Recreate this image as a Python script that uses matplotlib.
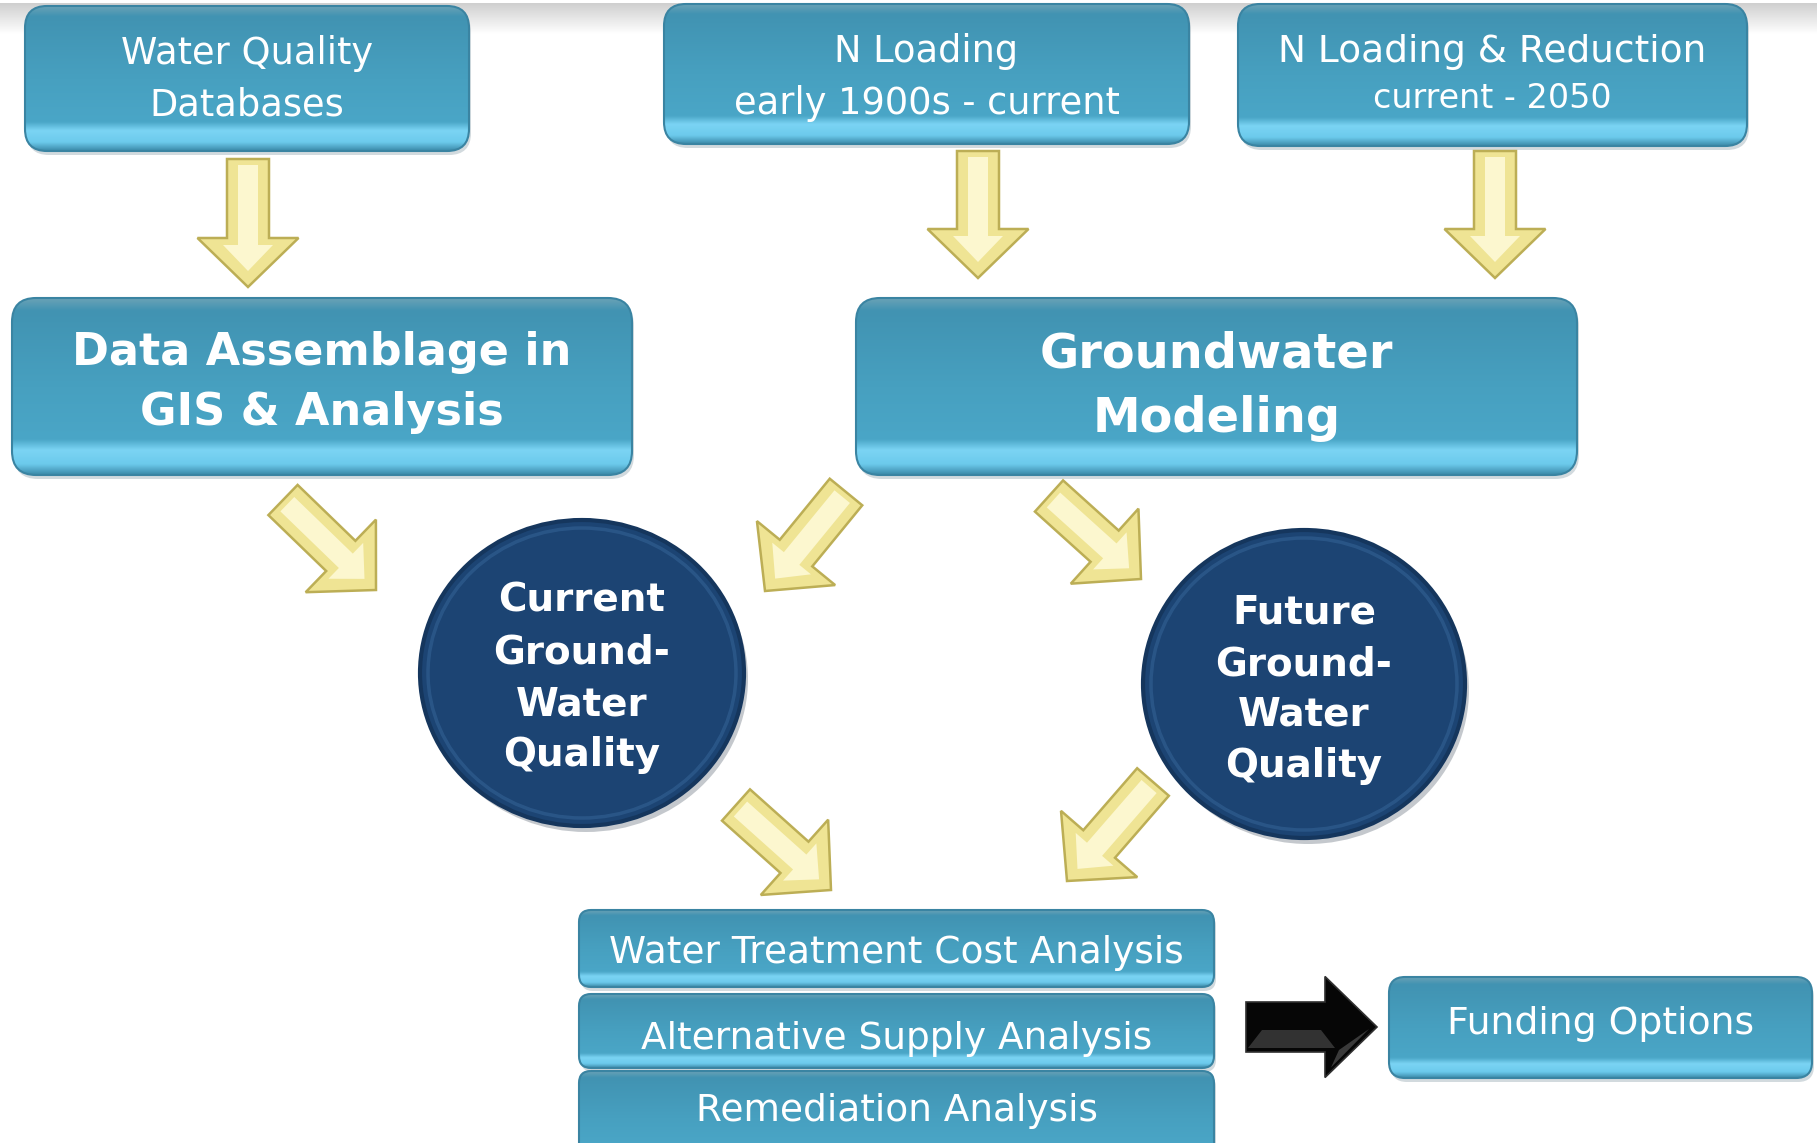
import numpy as np
import matplotlib
matplotlib.use('Agg')
import matplotlib.pyplot as plt
from matplotlib.patches import FancyBboxPatch, Ellipse, Polygon
from matplotlib.colors import LinearSegmentedColormap

W, H = 1817, 1143

# node texts
box_labels = [["Water Quality", "Databases"],
              ["N Loading", "early 1900s - current"],
              ["N Loading & Reduction", "current - 2050"],
              ["Data Assemblage in", "GIS & Analysis"],
              ["Groundwater", "Modeling"],
              ["Water Treatment Cost Analysis"],
              ["Alternative Supply Analysis"],
              ["Remediation Analysis"],
              ["Funding Options"]]
circle_labels = [["Current", "Ground-", "Water", "Quality"],
                 ["Future", "Ground-", "Water", "Quality"]]

# layout (pixels, y down)
box_rects = [(25, 6, 469, 151), (664, 4, 1189, 144), (1238, 4, 1747, 146),
             (12, 298, 632, 475), (856, 298, 1577, 475),
             (579, 910, 1214, 987), (579, 994, 1214, 1068), (579, 1071, 1214, 1165),
             (1389, 977, 1812, 1078)]
box_text_y = [[54, 105], [52, 103], [52, 99], [352, 412], [354, 418],
              [953], [1039], [1111], [1024]]
box_text_size = [[26.5, 26.5], [26.5, 26.5], [27, 24], [32, 32], [34.5, 34.5],
                 [27, 27], [27], [27], [27.2]]
box_bold = [False, False, False, True, True, False, False, False, False]
box_radius = [22, 22, 22, 24, 24, 12, 12, 12, 16]

circles = [(582, 673, 162, 153), (1304, 684, 161, 154)]
circle_text_y = [[601, 652, 704, 755], [613, 664, 715, 766]]

yellow_arrows = [((248, 159), (248, 287)), ((978, 151), (978, 278)),
                 ((1495, 151), (1495, 278)),
                 ((283, 500), (376, 590)), ((846, 492), (765, 591)),
                 ((1049, 496), (1141, 579)), ((736, 805), (831, 890)),
                 ((1153, 782), (1067, 881))]
black_arrow = ((1246, 1027), (1377, 1027))

box_cmap = LinearSegmentedColormap.from_list('box', [
    (0.0, '#6aa2b6'), (0.07, '#4193b2'), (0.5, '#47a0c0'), (0.8, '#4aa6c7'),
    (0.86, '#7bd4f4'), (0.94, '#6ccaec'), (1.0, '#3b89a8')])

fig = plt.figure(figsize=(W / 100, H / 100), dpi=100)
ax = fig.add_axes([0, 0, 1, 1])
ax.axis('off')

# grey band at the top
band = np.linspace(0, 1, 64).reshape(-1, 1)
ax.imshow(band, extent=(0, W, 34, 3), aspect='auto', origin='upper',
          cmap=LinearSegmentedColormap.from_list('g', ['#cfcfcf', '#ffffff']), zorder=0)

grad = np.linspace(0, 1, 256).reshape(-1, 1)


def rbox(x0, y0, x1, y1, r):
    style = f"round,pad=0,rounding_size={r}"
    sh = FancyBboxPatch((x0 + 2, y0 + 4), x1 - x0, y1 - y0, boxstyle=style,
                        fc='#8fa3ad', ec='none', alpha=0.4, zorder=1)
    ax.add_patch(sh)
    clip = FancyBboxPatch((x0, y0), x1 - x0, y1 - y0, boxstyle=style,
                          fc='none', ec='none', transform=ax.transData)
    im = ax.imshow(grad, extent=(x0, x1, y1, y0), aspect='auto', origin='upper',
                   cmap=box_cmap, zorder=2, interpolation='bicubic')
    im.set_clip_path(clip)
    edge = FancyBboxPatch((x0, y0), x1 - x0, y1 - y0, boxstyle=style,
                          fc='none', ec='#3a84a2', lw=1.5, zorder=3)
    ax.add_patch(edge)


def arrow_pts(tail, tip, sw, hw, hl):
    t = np.array(tail, float)
    p = np.array(tip, float)
    u = (p - t) / np.linalg.norm(p - t)
    n = np.array([-u[1], u[0]])
    b = p - u * hl
    return [t + n * sw / 2, b + n * sw / 2, b + n * hw / 2, p,
            b - n * hw / 2, b - n * sw / 2, t - n * sw / 2]


for rect, r in zip(box_rects, box_radius):
    rbox(*rect, r)

for (x0, y0, x1, y1), lines, ys, sizes, bold in zip(box_rects, box_labels, box_text_y,
                                                   box_text_size, box_bold):
    for s, y, fs in zip(lines, ys, sizes):
        ax.text((x0 + x1) / 2, y, s, ha='center', va='center', color='white',
                fontsize=fs, fontweight='bold' if bold else 'normal',
                family='DejaVu Sans', zorder=5)

for (cx, cy, rx, ry), lines, ys in zip(circles, circle_labels, circle_text_y):
    ax.add_patch(Ellipse((cx + 4, cy + 6), 2 * rx, 2 * ry, fc='#7d8690', alpha=0.45, zorder=1))
    ax.add_patch(Ellipse((cx, cy), 2 * rx, 2 * ry, fc='#1c4473', ec='#15365d', lw=3, zorder=2))
    ax.add_patch(Ellipse((cx, cy), 2 * rx - 16, 2 * ry - 16, fc='none', ec='#2d5a8c',
                         lw=2.5, alpha=0.8, zorder=3))
    for s, y in zip(lines, ys):
        ax.text(cx, y, s, ha='center', va='center', color='white', fontsize=28,
                fontweight='bold', family='DejaVu Sans', zorder=5)

for tail, tip in yellow_arrows:
    ax.add_patch(Polygon(arrow_pts(tail, tip, 42, 101, 49), closed=True,
                         fc='#efe494', ec='#bcae55', lw=1.8, zorder=4))
    t = np.array(tail, float)
    p = np.array(tip, float)
    u = (p - t) / np.linalg.norm(p - t)
    ax.add_patch(Polygon(arrow_pts(t + u * 6, p - u * 16, 20, 50, 26), closed=True,
                         fc='#fcf7cf', ec='none', zorder=4.5))

# black arrow with bevel facets on its lower side
tail, tip = black_arrow
sw, hw, hl = 50, 101, 52
ax.add_patch(Polygon(arrow_pts(tail, tip, sw, hw, hl), closed=True,
                     fc='#060606', ec='#303030', lw=1.2, zorder=4))
bx = tip[0] - hl
cy = tail[1]
ax.add_patch(Polygon([(tail[0] + 16, cy + 3), (bx - 4, cy + 3), (bx + 10, cy + sw / 2 - 4),
                      (tail[0] + 2, cy + sw / 2 - 4)],
                     closed=True, fc='#3a3a3a', ec='none', alpha=0.85, zorder=4.5))
ax.add_patch(Polygon([(tip[0] - 8, cy + 2), (bx + 14, cy + sw / 2 - 2), (bx + 6, cy + hw / 2 - 10)],
                     closed=True, fc='#444444', ec='none', alpha=0.85, zorder=4.5))

ax.set_xlim(0, W)
ax.set_ylim(H, 0)
fig.savefig('out.png', dpi=100, facecolor='white')
